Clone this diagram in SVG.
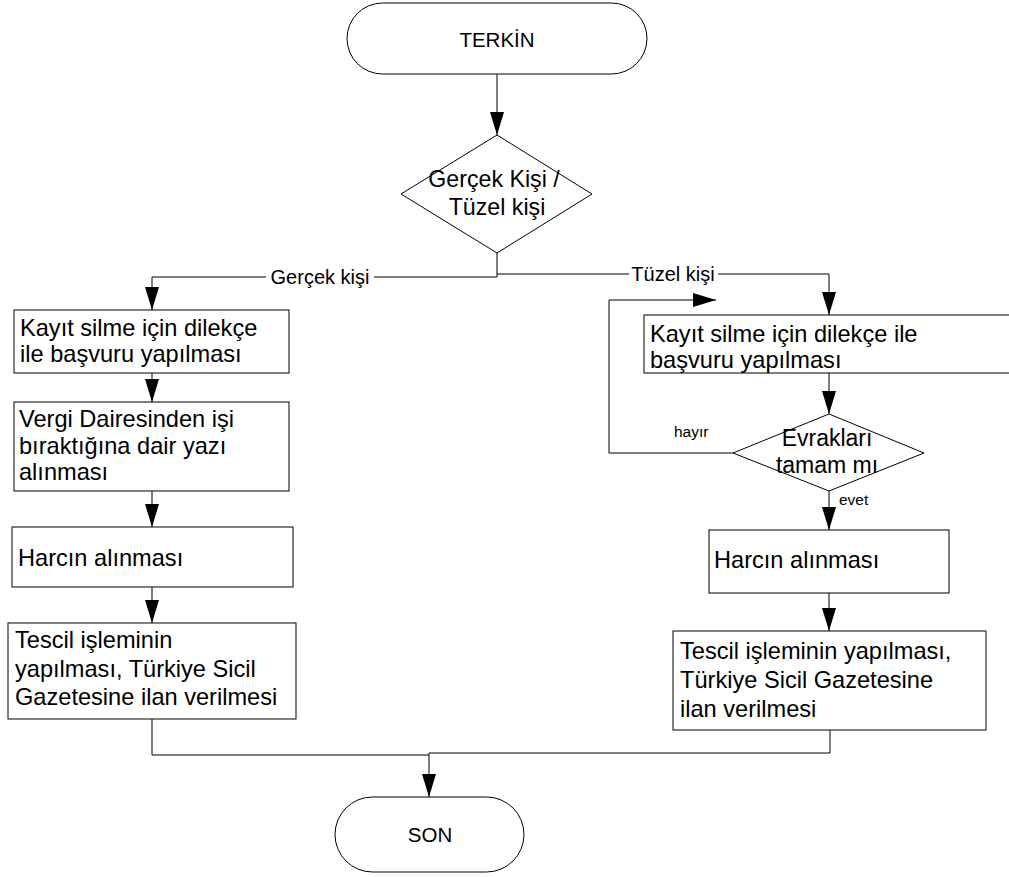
<svg xmlns="http://www.w3.org/2000/svg" width="1009" height="877" viewBox="0 0 1009 877">
<defs>
<marker id="ah" viewBox="0 0 23 14" refX="23" refY="7" markerWidth="23" markerHeight="14" orient="auto" markerUnits="userSpaceOnUse">
<path d="M0,0 L23,7 L0,14 z" fill="#000"/>
</marker>
<style>
.shape{fill:#fff;stroke:#000;stroke-width:1}
.t{font-family:"Liberation Sans",Arial,sans-serif;font-size:23.6px;fill:#000}
.tc{text-anchor:middle}
.lbl{font-family:"Liberation Sans",Arial,sans-serif;font-size:20px;fill:#000}
.sm{font-family:"Liberation Sans",Arial,sans-serif;font-size:15.5px;fill:#000}
.c{fill:none;stroke:#000;stroke-width:1}
</style>
</defs>
<rect width="1009" height="877" fill="#fff"/>
<g id="connectors">
<path class="c" d="M497,74 V135" marker-end="url(#ah)"/>
<path class="c" d="M497,253 V277 H152 V310" marker-end="url(#ah)"/>
<path class="c" d="M497,274 H829 V315" marker-end="url(#ah)"/>
<path class="c" d="M152,373 V402" marker-end="url(#ah)"/>
<path class="c" d="M152,491 V527" marker-end="url(#ah)"/>
<path class="c" d="M152,587 V623" marker-end="url(#ah)"/>
<path class="c" d="M152,719 V755 H429"/>
<path class="c" d="M829,373 V414" marker-end="url(#ah)"/>
<path class="c" d="M733,453 H609 V300 H716" marker-end="url(#ah)"/>
<path class="c" d="M829,491 V530" marker-end="url(#ah)"/>
<path class="c" d="M829,593 V631" marker-end="url(#ah)"/>
<path class="c" d="M830,730 V753 H429 V797" marker-end="url(#ah)"/>
<rect x="266" y="266" width="108" height="22" fill="#fff"/>
<text class="lbl" x="320" y="284" text-anchor="middle">Gerçek kişi</text>
<rect x="629" y="263" width="89" height="22" fill="#fff"/>
<text class="lbl" x="673" y="281" text-anchor="middle">Tüzel kişi</text>
<text class="sm" x="674" y="437">hayır</text>
<text class="sm" x="839" y="505">evet</text>
</g>
<g id="start">
<rect class="shape" x="347" y="3" width="300" height="71" rx="35.5" ry="35.5"/>
<text class="t tc" x="497" y="47" style="font-size:20.5px">TERKİN</text>
</g>
<g id="decision1">
<polygon class="shape" points="497,135 592,194 497,253 401,194"/>
<text class="t tc" x="494" y="187" style="font-size:23.2px">Gerçek Kişi /</text>
<text class="t tc" x="497" y="215" style="font-size:23.2px">Tüzel kişi</text>
</g>
<g id="left1">
<rect class="shape" x="14" y="310" width="275" height="63"/>
<text class="t" x="20" y="336">Kayıt silme için dilekçe</text>
<text class="t" x="20" y="362">ile başvuru yapılması</text>
</g>
<g id="left2">
<rect class="shape" x="14" y="402" width="275" height="89"/>
<text class="t" x="19" y="427">Vergi Dairesinden işi</text>
<text class="t" x="19" y="454">bıraktığına dair yazı</text>
<text class="t" x="19" y="480">alınması</text>
</g>
<g id="left3">
<rect class="shape" x="12" y="527" width="281" height="60"/>
<text class="t" x="18" y="566">Harcın alınması</text>
</g>
<g id="left4">
<rect class="shape" x="8" y="623" width="288" height="96"/>
<text class="t" x="15" y="648">Tescil işleminin</text>
<text class="t" x="15" y="677">yapılması, Türkiye Sicil</text>
<text class="t" x="15" y="705">Gazetesine ilan verilmesi</text>
</g>
<g id="right1">
<rect class="shape" x="644" y="315" width="370" height="58"/>
<text class="t" x="650" y="342">Kayıt silme için dilekçe ile</text>
<text class="t" x="650" y="368">başvuru yapılması</text>
</g>
<g id="decision2">
<polygon class="shape" points="829,414 924,453 829,491 733,453"/>
<text class="t tc" x="827" y="446" style="font-size:23px">Evrakları</text>
<text class="t tc" x="827" y="473" style="font-size:23px">tamam mı</text>
</g>
<g id="right2">
<rect class="shape" x="709" y="530" width="240" height="63"/>
<text class="t" x="714" y="568">Harcın alınması</text>
</g>
<g id="right3">
<rect class="shape" x="673" y="631" width="313" height="99"/>
<text class="t" x="680" y="659">Tescil işleminin yapılması,</text>
<text class="t" x="680" y="688">Türkiye Sicil Gazetesine</text>
<text class="t" x="680" y="717">ilan verilmesi</text>
</g>
<g id="end">
<rect class="shape" x="335" y="797" width="189" height="75" rx="37.5" ry="37.5"/>
<text class="t tc" x="430" y="842" style="font-size:20.5px">SON</text>
</g>
</svg>
